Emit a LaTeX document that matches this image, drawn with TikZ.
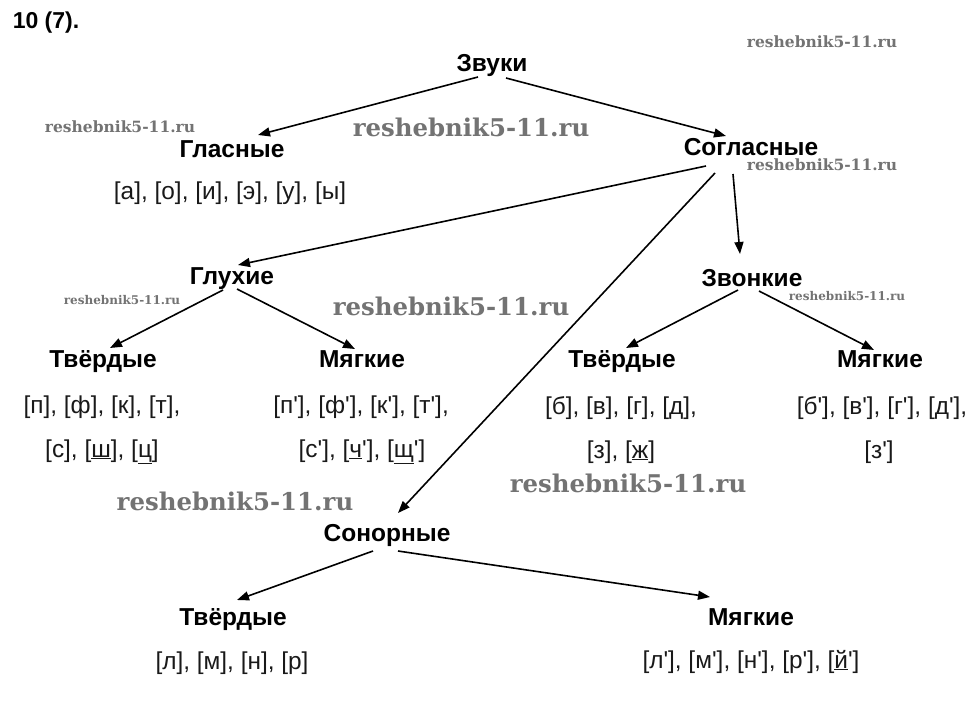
\documentclass[tikz,border=0pt]{standalone}
\usepackage{fontspec}
\setmainfont{Liberation Sans}
\newfontfamily\wmfont{DejaVu Serif}
\usetikzlibrary{arrows.meta,calc}
\newcommand\q{\textquotesingle}
\begin{document}
\begin{tikzpicture}[x=1pt,y=-1pt,
  hd/.style={anchor=base, inner sep=0pt, text=black, font=\fontsize{24.5}{28}\selectfont\bfseries},
  ls/.style={anchor=base, inner sep=0pt, text=black!90, font=\fontsize{24.4}{28}\selectfont},
  arr/.style={-{Triangle[length=12pt,width=9pt]}, line width=1.6pt, draw=black},
  wm/.style={anchor=base, inner sep=0pt, text=black!55},
  wmL/.style={wm, font=\wmfont\bfseries\fontsize{24.4}{26}\selectfont},
  wmS/.style={wm, font=\wmfont\bfseries\fontsize{15.5}{17}\selectfont},
  wmT/.style={wm, font=\wmfont\bfseries\fontsize{12}{14}\selectfont}]
\fill[white] (0,0) rectangle (975,723);
\useasboundingbox (0,0) rectangle (975,723);

% watermarks
\node[wmS] (w1) at (822,47) {reshebnik5-11.ru};
\node[wmS] (w2) at (120,132) {reshebnik5-11.ru};
\node[wmL] (w3) at (471,136) {reshebnik5-11.ru};
\node[wmS] (w4) at (822,170) {reshebnik5-11.ru};
\node[wmT] (w5) at (122,304) {reshebnik5-11.ru};
\node[wmT] (w6) at (847,300) {reshebnik5-11.ru};
\node[wmL] (w7) at (451,315) {reshebnik5-11.ru};
\node[wmL] (w8) at (235,510) {reshebnik5-11.ru};
\node[wmL] (w9) at (628,492) {reshebnik5-11.ru};

% title
\node[hd, font=\fontsize{23}{26}\selectfont\bfseries] (title) at (46,28) {10 (7).};

% headings
\node[hd] (zv) at (492,71) {Звуки};
\node[hd] (gl) at (232,157) {Гласные};
\node[hd] (sog) at (751,155) {Согласные};
\node[hd] (glu) at (232,284) {Глухие};
\node[hd] (zvo) at (752,286) {Звонкие};
\node[hd] (tv1) at (103,367) {Твёрдые};
\node[hd] (mg1) at (362,367) {Мягкие};
\node[hd] (tv2) at (622,367) {Твёрдые};
\node[hd] (mg2) at (880,367) {Мягкие};
\node[hd] (son) at (387,541) {Сонорные};
\node[hd] (tv3) at (233,625) {Твёрдые};
\node[hd] (mg3) at (751,625) {Мягкие};

% lists
\node[ls] (lgl) at (230,199) {[а], [о], [и], [э], [у], [ы]};
\node[ls] (ltv1a) at (102,413) {[п], [ф], [к], [т],};
\node[ls] (ltv1b) at (102,457) {[с], [\underline{ш}], [\underline{ц}]};
\node[ls] (lmg1a) at (361,413) {[п\q], [ф\q], [к\q], [т\q],};
\node[ls] (lmg1b) at (362,457) {[с\q], [\underline{ч}\q], [\underline{щ}\q]};
\node[ls] (ltv2a) at (621,414) {[б], [в], [г], [д],};
\node[ls] (ltv2b) at (621,458) {[з], [\underline{ж}]};
\node[ls] (lmg2a) at (882,414) {[б\q], [в\q], [г\q], [д\q],};
\node[ls] (lmg2b) at (879,458) {[з\q]};
\node[ls] (ltv3) at (232,669) {[л], [м], [н], [р]};
\node[ls] (lmg3) at (751,668) {[л\q], [м\q], [н\q], [р\q], [\underline{й}\q]};

% connectors
\draw[arr] ($(zv.base)+(-14,6)$) -- ($(gl.base)+(26,-22)$);
\draw[arr] ($(zv.base)+(14,7)$) -- ($(sog.base)+(-25,-19)$);
\draw[arr] ($(sog.base)+(-45,11)$) -- ($(glu.base)+(6,-19)$);
\draw[arr] ($(sog.base)+(-36,18)$) -- ($(son.base)+(11,-28)$);
\draw[arr] ($(sog.base)+(-18,19)$) -- ($(zvo.base)+(-12,-32)$);
\draw[arr] ($(glu.base)+(-9,6)$) -- ($(tv1.base)+(7,-19)$);
\draw[arr] ($(glu.base)+(5,5)$) -- ($(mg1.base)+(-7,-18)$);
\draw[arr] ($(zvo.base)+(-14,4)$) -- ($(tv2.base)+(4,-19)$);
\draw[arr] ($(zvo.base)+(7,5)$) -- ($(mg2.base)+(-6,-17)$);
\draw[arr] ($(son.base)+(-14,10)$) -- ($(tv3.base)+(4,-25)$);
\draw[arr] ($(son.base)+(11,10)$) -- ($(mg3.base)+(-41,-28)$);
\end{tikzpicture}
\end{document}
